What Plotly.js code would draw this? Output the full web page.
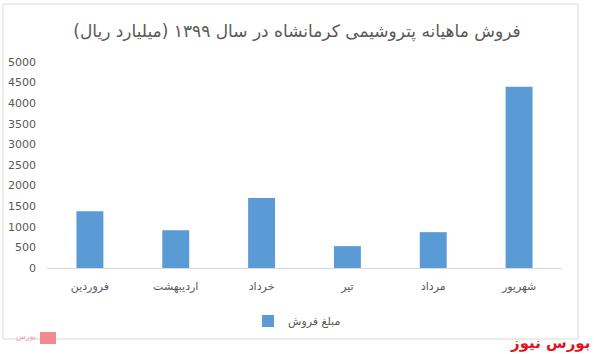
<!DOCTYPE html>
<html>
<head>
<meta charset="utf-8">
<script src="https://cdn.plot.ly/plotly-3.0.1.min.js"></script>
<style>html,body{margin:0;padding:0;background:#fff}#chart{width:594px;height:354px}</style>
</head>
<body>
<div id="chart"></div>
<script>
var months = ["فروردین", "اردیبهشت", "خرداد", "تیر", "مرداد", "شهریور"];
var sales = [1380, 915, 1700, 530, 870, 4400];
var seriesName = "مبلغ فروش";
var yTicks = [0, 500, 1000, 1500, 2000, 2500, 3000, 3500, 4000, 4500, 5000];
var titleText = "فروش ماهیانه پتروشیمی کرمانشاه در سال ۱۳۹۹ (میلیارد ریال)";
var watermark = "بورس نیوز";

var F = "DejaVu Sans, Noto Sans, sans-serif";
var trace = {
  type: "bar", x: months, y: sales, name: seriesName,
  marker: {color: "#5b9bd5"}, showlegend: true
};
// plot area: x 47..562, y 62..268
function px2x(p){return (p-47)/515;}
function px2y(p){return (268-p)/206;}
var layout = {
  width: 594, height: 354,
  margin: {l: 47, r: 32, t: 62, b: 86},
  paper_bgcolor: "#fff", plot_bgcolor: "#fff",
  font: {family: F, color: "#595959", size: 11},
  bargap: 0.686,
  title: {text: titleText, font: {family: F, size: 17, color: "#595959"},
          x: 0.5, xref: "container", y: 1 - 31/354, yref: "container", yanchor: "middle"},
  xaxis: {type: "category", showgrid: false, showline: true, linecolor: "#d9d9d9", linewidth: 1,
          ticks: "", tickfont: {family: F, size: 11, color: "#595959"}, ticklabelstandoff: 8,
          zeroline: false, fixedrange: true},
  yaxis: {range: [0, 5000], tickvals: yTicks, showgrid: false, zeroline: false, showline: false,
          ticks: "", tickfont: {family: F, size: 11, color: "#595959"}, ticklabelstandoff: 10,
          fixedrange: true},
  showlegend: true,
  legend: {orientation: "h", x: 0.5, xanchor: "center", xref: "container",
           y: 1 - 321/354, yref: "container", yanchor: "middle",
           font: {family: F, size: 11, color: "#595959"}},
  shapes: [
    {type: "rect", xref: "paper", yref: "paper", x0: px2x(3), x1: px2x(578), y0: px2y(339), y1: px2y(4),
     line: {color: "#d9d9d9", width: 1}, fillcolor: "rgba(0,0,0,0)", layer: "below"},
    {type: "rect", xref: "paper", yref: "paper", x0: px2x(40), x1: px2x(56), y0: px2y(344), y1: px2y(332),
     line: {width: 0}, fillcolor: "#f08a8f", layer: "above"}
  ],
  annotations: [
    {text: "<b>" + watermark + "</b>", xref: "paper", yref: "paper", x: px2x(592), y: px2y(343),
     xanchor: "right", yanchor: "middle", showarrow: false,
     font: {family: F, size: 15, color: "#e3131b"}},
    {text: "بورس", xref: "paper", yref: "paper", x: px2x(38), y: px2y(336),
     xanchor: "right", yanchor: "middle", showarrow: false,
     font: {family: F, size: 8, color: "#f2a0a4"}}
  ]
};
Plotly.newPlot("chart", [trace], layout, {displayModeBar: false, staticPlot: true});
</script>
</body>
</html>
